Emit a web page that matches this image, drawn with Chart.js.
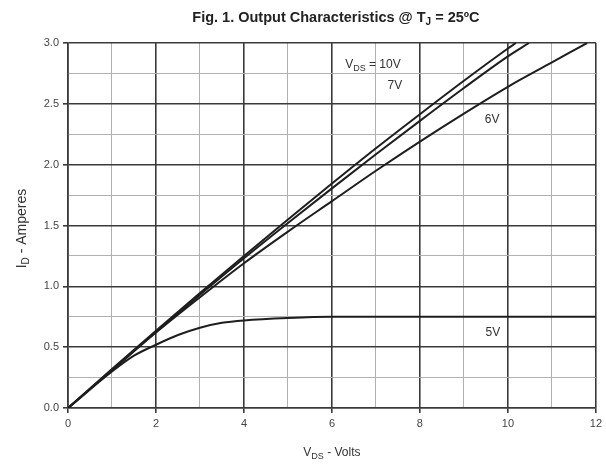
<!DOCTYPE html>
<html>
<head>
<meta charset="utf-8">
<script src="https://cdn.jsdelivr.net/npm/chart.js@4"></script>
<style>
  html, body { margin: 0; padding: 0; background: #fff; }
  #wrap { width: 606px; height: 471px; position: relative; }
</style>
</head>
<body>
<div id="wrap"><canvas id="out"></canvas></div>
<script>
// values (V_DS in volts, I_D in amperes)
const vds10 = [0, 1, 2, 3, 4, 5, 6, 7, 8, 9, 10, 10.18];
const id10 = [0, 0.32, 0.635, 0.945, 1.25, 1.55, 1.845, 2.135, 2.415, 2.69, 2.955, 3.0];

const vds7 = [0, 1, 2, 3, 4, 5, 6, 7, 8, 9, 10, 10.48];
const id7 = [0, 0.315, 0.625, 0.93, 1.23, 1.52, 1.805, 2.085, 2.36, 2.63, 2.89, 3.0];

const vds6 = [0, 1, 2, 3, 4, 5, 6, 7, 8, 9, 10, 11, 11.8];
const id6 = [0, 0.31, 0.62, 0.91, 1.19, 1.45, 1.7, 1.95, 2.19, 2.42, 2.64, 2.84, 3.0];

const vds5 = [0, 1, 1.5, 2, 2.5, 3, 3.5, 4, 5, 6, 8, 10, 12];
const id5 = [0, 0.3, 0.43, 0.52, 0.6, 0.66, 0.7, 0.72, 0.74, 0.75, 0.75, 0.75, 0.75];

const xTicks = [0, 2, 4, 6, 8, 10, 12];
const yTicks = [0, 0.5, 1.0, 1.5, 2.0, 2.5, 3.0];

// curve labels: [main, subscript, rest, x, y, align]
const curveLabels = [
  ["V", "DS", " = 10V", 6.3, 2.82, "left"],
  ["7V", "", "", 7.43, 2.65, "center"],
  ["6V", "", "", 9.64, 2.37, "center"],
  ["5V", "", "", 9.66, 0.62, "center"]
];

const DARK = "#3a3a3a";
const LIGHT = "#b0b0b0";
const FONT = "'Liberation Sans', Arial, sans-serif";

function pts(xs, ys) {
  return xs.map((x, i) => ({ x: x, y: ys[i] }));
}

function curve(label, xs, ys) {
  return {
    label: label,
    data: pts(xs, ys),
    showLine: true,
    borderColor: "#1e1e1e",
    borderWidth: 2,
    pointRadius: 0,
    cubicInterpolationMode: "monotone",
    fill: false
  };
}

// draw text with a subscript part
function subText(ctx, main, sub, rest, x, y, size, align) {
  ctx.font = size + "px " + FONT;
  const w1 = ctx.measureText(main).width;
  ctx.font = Math.round(size * 0.72) + "px " + FONT;
  const w2 = ctx.measureText(sub).width;
  ctx.font = size + "px " + FONT;
  const w3 = ctx.measureText(rest).width;
  const total = w1 + w2 + w3;
  let start = x;
  if (align === "center") start = x - total / 2;
  ctx.textAlign = "left";
  ctx.textBaseline = "middle";
  ctx.fillText(main, start, y);
  ctx.font = Math.round(size * 0.72) + "px " + FONT;
  ctx.fillText(sub, start + w1, y + size * 0.3);
  ctx.font = size + "px " + FONT;
  ctx.fillText(rest, start + w1 + w2, y);
}

const textPlugin = {
  id: "texts",
  afterDraw(chart) {
    const ctx = chart.ctx;
    const xs = chart.scales.x;
    const ys = chart.scales.y;
    const area = chart.chartArea;
    ctx.save();
    ctx.fillStyle = "#222";

    // title
    const t1 = "Fig. 1. Output Characteristics @ T";
    const t2 = "J";
    const t3 = " = 25ºC";
    ctx.font = "bold 14.5px " + FONT;
    const a = ctx.measureText(t1).width;
    ctx.font = "bold 10px " + FONT;
    const b = ctx.measureText(t2).width;
    ctx.font = "bold 14.5px " + FONT;
    const c = ctx.measureText(t3).width;
    let tx = (area.left + area.right) / 2 - (a + b + c) / 2 + 4;
    ctx.textBaseline = "middle";
    ctx.textAlign = "left";
    ctx.fillText(t1, tx, 18);
    ctx.font = "bold 10px " + FONT;
    ctx.fillText(t2, tx + a, 22);
    ctx.font = "bold 14.5px " + FONT;
    ctx.fillText(t3, tx + a + b, 18);

    // curve labels
    ctx.fillStyle = "#333";
    curveLabels.forEach(l => {
      subText(ctx, l[0], l[1], l[2], xs.getPixelForValue(l[3]), ys.getPixelForValue(l[4]), 12, l[5]);
    });

    // axis titles
    ctx.fillStyle = "#333";
    subText(ctx, "V", "DS", " - Volts", (area.left + area.right) / 2, 453, 12, "center");
    ctx.translate(22, (area.top + area.bottom) / 2 + 3);
    ctx.rotate(-Math.PI / 2);
    subText(ctx, "I", "D", " - Amperes", 0, 0, 14, "center");
    ctx.restore();
  }
};

const isMajorX = v => Math.abs(v / 2 - Math.round(v / 2)) < 1e-6;
const isMajorY = v => Math.abs(v / 0.5 - Math.round(v / 0.5)) < 1e-6;

const chartConfig = {
  type: "scatter",
  data: {
    datasets: [
      curve("10V", vds10, id10),
      curve("7V", vds7, id7),
      curve("6V", vds6, id6),
      curve("5V", vds5, id5)
    ]
  },
  options: {
    responsive: true,
    maintainAspectRatio: false,
    animation: false,
    layout: { padding: { top: 43, right: 8, left: 0, bottom: 0 } },
    plugins: {
      legend: { display: false },
      tooltip: { enabled: false },
      title: { display: false }
    },
    scales: {
      x: {
        type: "linear",
        min: 0,
        max: 12,
        afterFit: s => { s.height = 63; },
        afterBuildTicks: s => {
          s.ticks = [];
          for (let v = 0; v <= 12; v += 1) s.ticks.push({ value: v });
        },
        ticks: {
          color: "#444",
          font: { family: FONT, size: 11 },
          padding: 4,
          maxRotation: 0,
          autoSkip: false,
          callback: v => (xTicks.includes(v) ? String(v) : "")
        },
        grid: {
          color: c => (isMajorX(c.tick.value) ? DARK : LIGHT),
          lineWidth: c => (isMajorX(c.tick.value) ? 1.6 : 1),
          tickColor: c => (isMajorX(c.tick.value) ? DARK : "rgba(0,0,0,0)"),
          tickLength: 5
        },
        border: { color: DARK, width: 1.6 }
      },
      y: {
        type: "linear",
        min: 0,
        max: 3,
        afterFit: s => { s.width = 68; },
        afterBuildTicks: s => {
          s.ticks = [];
          for (let i = 0; i <= 12; i++) s.ticks.push({ value: i * 0.25 });
        },
        ticks: {
          color: "#444",
          font: { family: FONT, size: 11 },
          padding: 4,
          autoSkip: false,
          callback: v => (yTicks.some(t => Math.abs(t - v) < 1e-6) ? v.toFixed(1) : "")
        },
        grid: {
          color: c => (isMajorY(c.tick.value) ? DARK : LIGHT),
          lineWidth: c => (isMajorY(c.tick.value) ? 1.6 : 1),
          tickColor: c => (isMajorY(c.tick.value) ? DARK : "rgba(0,0,0,0)"),
          tickLength: 5
        },
        border: { color: DARK, width: 1.6 }
      }
    }
  },
  plugins: [textPlugin]
};

const canvasCtx = document.getElementById("out").getContext("2d");
window.chart = new Chart(canvasCtx, chartConfig);
</script>
</body>
</html>
